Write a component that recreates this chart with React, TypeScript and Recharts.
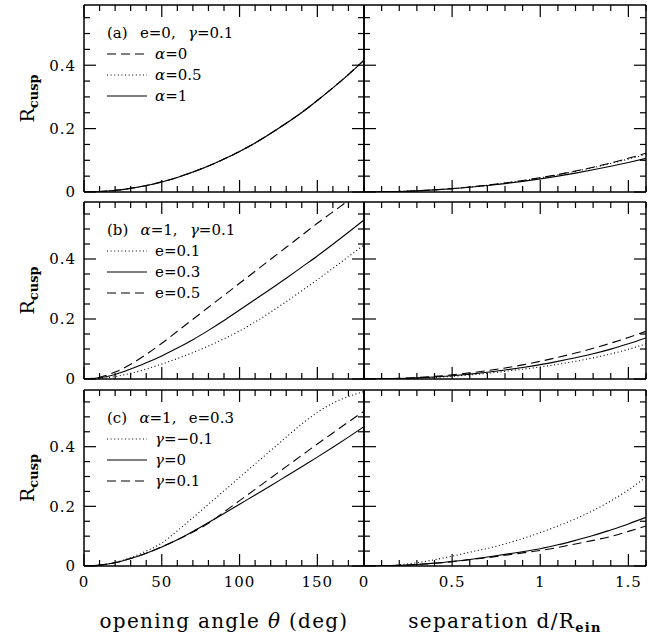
import React from 'react';
import { LineChart, Line, XAxis, YAxis, Legend, Label } from 'recharts';

const FONT = '"DejaVu Serif", "Liberation Serif", serif';

// x grids
const thetaGrid = [0, 10, 20, 30, 40, 50, 60, 70, 80, 90, 100, 110, 120, 130, 140, 150, 160, 170, 180];
const sepGrid = [0, 0.1, 0.2, 0.3, 0.4, 0.5, 0.6, 0.7, 0.8, 0.9, 1, 1.1, 1.2, 1.3, 1.4, 1.5, 1.6];

// ticks
const thetaTicks = [0, 10, 20, 30, 40, 50, 60, 70, 80, 90, 100, 110, 120, 130, 140, 150, 160, 170, 180];
const thetaMajor = [0, 50, 100, 150];
const sepTicks = [0, 0.1, 0.2, 0.3, 0.4, 0.5, 0.6, 0.7, 0.8, 0.9, 1, 1.1, 1.2, 1.3, 1.4, 1.5, 1.6];
const sepMajor = [0, 0.5, 1, 1.5];
const rTicks = [0, 0.05, 0.1, 0.15, 0.2, 0.25, 0.3, 0.35, 0.4, 0.45, 0.5, 0.55];
const rMajor = [0, 0.2, 0.4];

// (a) e=0, gamma=0.1 -- alpha varies
const aThetaAlpha0 = [0, 0.0013, 0.0051, 0.0116, 0.0205, 0.032, 0.046, 0.063, 0.082, 0.104, 0.128, 0.155, 0.185, 0.217, 0.251, 0.289, 0.329, 0.371, 0.416];
const aThetaAlpha05 = [0, 0.0013, 0.0051, 0.0115, 0.0204, 0.0319, 0.0459, 0.0629, 0.0819, 0.1039, 0.1279, 0.1549, 0.1848, 0.2168, 0.2509, 0.2888, 0.3288, 0.3708, 0.4158];
const aThetaAlpha1 = [0, 0.0013, 0.005, 0.0115, 0.0204, 0.0318, 0.0458, 0.0628, 0.0818, 0.1038, 0.1278, 0.1548, 0.1847, 0.2167, 0.2508, 0.2887, 0.3286, 0.3706, 0.4155];
const aSepAlpha0 = [0, 0.0004, 0.0017, 0.0038, 0.0068, 0.0108, 0.0157, 0.0216, 0.0285, 0.0363, 0.0452, 0.0551, 0.0661, 0.0783, 0.0917, 0.1062, 0.1225];
const aSepAlpha05 = [0, 0.0004, 0.0017, 0.0038, 0.0068, 0.0107, 0.0155, 0.0213, 0.0281, 0.0358, 0.0445, 0.0542, 0.065, 0.0769, 0.0899, 0.104, 0.119];
const aSepAlpha1 = [0, 0.0004, 0.0017, 0.0037, 0.0066, 0.0104, 0.0149, 0.0203, 0.0265, 0.0335, 0.0414, 0.0501, 0.0596, 0.07, 0.0812, 0.0932, 0.106];

// (b) alpha=1, gamma=0.1 -- e varies
const bThetaE01 = [0, 0.002, 0.008, 0.019, 0.033, 0.05, 0.068, 0.088, 0.11, 0.134, 0.16, 0.19, 0.223, 0.258, 0.294, 0.331, 0.369, 0.408, 0.447];
const bThetaE03 = [0, 0.004, 0.015, 0.033, 0.054, 0.077, 0.103, 0.131, 0.162, 0.195, 0.23, 0.265, 0.3, 0.336, 0.373, 0.41, 0.449, 0.489, 0.53];
const bThetaE05 = [0, 0.006, 0.023, 0.049, 0.082, 0.119, 0.159, 0.199, 0.239, 0.279, 0.319, 0.359, 0.399, 0.439, 0.479, 0.519, 0.557, 0.595, 0.632];
const bSepE01 = [0, 0.0003, 0.0013, 0.003, 0.0055, 0.009, 0.0135, 0.019, 0.0255, 0.0325, 0.04, 0.049, 0.059, 0.0705, 0.0835, 0.099, 0.117];
const bSepE03 = [0, 0.0004, 0.0016, 0.0037, 0.0068, 0.011, 0.0162, 0.0225, 0.0299, 0.0384, 0.048, 0.0588, 0.0708, 0.084, 0.0996, 0.1175, 0.137];
const bSepE05 = [0, 0.0005, 0.002, 0.0047, 0.0086, 0.014, 0.0203, 0.028, 0.0368, 0.0471, 0.059, 0.0722, 0.0866, 0.1023, 0.1195, 0.1384, 0.159];

// (c) alpha=1, e=0.3 -- gamma varies
const cThetaGm01 = [0, 0.003, 0.012, 0.028, 0.05, 0.077, 0.118, 0.162, 0.207, 0.252, 0.297, 0.342, 0.387, 0.432, 0.476, 0.515, 0.546, 0.568, 0.585];
const cThetaG0 = [0, 0.003, 0.011, 0.025, 0.043, 0.064, 0.088, 0.116, 0.146, 0.176, 0.207, 0.238, 0.269, 0.301, 0.333, 0.365, 0.398, 0.432, 0.467];
const cThetaG01 = [0, 0.003, 0.011, 0.025, 0.043, 0.064, 0.088, 0.114, 0.143, 0.181, 0.219, 0.257, 0.295, 0.333, 0.371, 0.409, 0.446, 0.483, 0.519];
const cSepGm01 = [0, 0.0005, 0.004, 0.011, 0.021, 0.033, 0.046, 0.059, 0.074, 0.092, 0.112, 0.134, 0.158, 0.186, 0.218, 0.255, 0.298];
const cSepG0 = [0, 0.0003, 0.002, 0.005, 0.0095, 0.0155, 0.022, 0.03, 0.039, 0.048, 0.058, 0.071, 0.086, 0.102, 0.121, 0.141, 0.163];
const cSepG01 = [0, 0.0003, 0.002, 0.005, 0.009, 0.0145, 0.021, 0.028, 0.036, 0.044, 0.052, 0.062, 0.074, 0.086, 0.099, 0.116, 0.134];

const DASH = '9 5';
const DOT = '1 2.6';

type Series = { name: React.ReactNode; values: number[]; dash?: string };

const gr = (s: string) => <tspan fontStyle="italic">{s}</tspan>;
const grH = (s: string) => <span style={{ fontStyle: 'italic' }}>{s}</span>;

const isMajor = (v: number, majors: number[]) => majors.some((m) => Math.abs(m - v) < 1e-6);

const makeTick = (side: 'left' | 'right' | 'top' | 'bottom', majors: number[], labelled: boolean) => (props: any) => {
  const { x, y, payload } = props;
  const v = payload.value;
  const major = isMajor(v, majors);
  const len = major ? 12 : 6;
  let x2 = x;
  let y2 = y;
  if (side === 'left') x2 = x + len;
  if (side === 'right') x2 = x - len;
  if (side === 'top') y2 = y + len;
  if (side === 'bottom') y2 = y - len;
  return (
    <g>
      <line x1={x} y1={y} x2={x2} y2={y2} stroke="#000" strokeWidth={1.2} />
      {labelled && major && side === 'left' && (
        <text x={x - 8} y={y} dy="0.36em" textAnchor="end" fontFamily={FONT} fontSize={15} letterSpacing={1} fill="#000">
          {String(v)}
        </text>
      )}
      {labelled && major && side === 'bottom' && (
        <text x={x} y={y + 21} textAnchor="middle" fontFamily={FONT} fontSize={15} letterSpacing={1} fill="#000">
          {String(v)}
        </text>
      )}
    </g>
  );
};

const ROWS = [
  { top: 5, h: 187 },
  { top: 202, h: 177 },
  { top: 390, h: 176 },
];

type PanelProps = {
  row: number;
  col: number;
  series: Series[];
  legendTitle?: React.ReactNode;
  xTitle?: React.ReactNode;
};

function LegendBox({ title, series }: { title: React.ReactNode; series: Series[] }) {
  return (
    <div style={{ fontFamily: FONT, fontSize: 15, lineHeight: '21px', color: '#000', whiteSpace: 'nowrap' }}>
      <div>{title}</div>
      {series.map((s, i) => (
        <div key={i} style={{ display: 'flex', alignItems: 'center', height: 21 }}>
          <svg width={40} height={8} style={{ display: 'block' }}>
            <line x1={0} y1={4} x2={40} y2={4} stroke="#000" strokeWidth={1.1} strokeDasharray={s.dash} />
          </svg>
          <span style={{ marginLeft: 8 }}>{s.name}</span>
        </div>
      ))}
    </div>
  );
}

function Panel({ row, col, series, legendTitle, xTitle }: PanelProps) {
  const { top, h } = ROWS[row];
  const bottomRow = row === 2;
  // outer plot-frame margins (axes take 1px each, so margins are trimmed by 1)
  const mLeft = col === 0 ? 84 : 30;
  const plotW = col === 0 ? 280 : 282;
  const mRight = col === 0 ? 14 : 21;
  const mTop = 5;
  const mBottom = bottomRow ? 71 : 8;
  const left = col === 0 ? 0 : 334;
  const width = mLeft + plotW + mRight;
  const height = mTop + h + mBottom;
  const grid = col === 0 ? thetaGrid : sepGrid;
  const xTicks = col === 0 ? thetaTicks : sepTicks;
  const xMajor = col === 0 ? thetaMajor : sepMajor;
  const xMax = col === 0 ? 180 : 1.6;
  const data = grid.map((x, i) => {
    const d: Record<string, number> = { x };
    series.forEach((s, k) => {
      d['s' + k] = s.values[i];
    });
    return d;
  });
  const axisLine = { stroke: '#000', strokeWidth: 1.5 };

  return (
    <div style={{ position: 'absolute', left, top: top - mTop, width, height }}>
      <LineChart
        width={width}
        height={height}
        data={data}
        margin={{ top: mTop - 1, right: mRight - 1, bottom: mBottom - 1, left: mLeft - 1 }}
      >
        <XAxis
          xAxisId="b"
          type="number"
          dataKey="x"
          domain={[0, xMax]}
          allowDataOverflow
          ticks={xTicks}
          interval={0}
          height={1}
          tickSize={0}
          tickMargin={0}
          axisLine={axisLine}
          tickLine={false}
          tick={makeTick('bottom', xMajor, bottomRow)}
        >
          {bottomRow && xTitle && (
            <Label
              content={() => (
                <text x={mLeft + plotW / 2} y={mTop + h + 62} textAnchor="middle" fontFamily={FONT} fontSize={20} letterSpacing={1.3} fill="#000">
                  {xTitle}
                </text>
              )}
            />
          )}
        </XAxis>
        <XAxis
          xAxisId="t"
          orientation="top"
          type="number"
          dataKey="x"
          domain={[0, xMax]}
          allowDataOverflow
          ticks={xTicks}
          interval={0}
          height={1}
          tickSize={0}
          tickMargin={0}
          axisLine={axisLine}
          tickLine={false}
          tick={makeTick('top', xMajor, false)}
        />
        <YAxis
          yAxisId="l"
          type="number"
          domain={[0, 0.59]}
          allowDataOverflow
          ticks={rTicks}
          interval={0}
          width={1}
          tickSize={0}
          tickMargin={0}
          axisLine={axisLine}
          tickLine={false}
          tick={makeTick('left', rMajor, col === 0)}
        >
          {col === 0 && (
            <Label
              content={() => (
                <text
                  x={34}
                  y={mTop + h / 2}
                  transform={`rotate(-90, 34, ${mTop + h / 2})`}
                  textAnchor="middle"
                  fontFamily={FONT}
                  fontSize={19}
                  fill="#000"
                >
                  <tspan>R</tspan>
                  <tspan fontSize={13} fontWeight="bold" dy={4}>cusp</tspan>
                </text>
              )}
            />
          )}
        </YAxis>
        <YAxis
          yAxisId="r"
          orientation="right"
          type="number"
          domain={[0, 0.59]}
          allowDataOverflow
          ticks={rTicks}
          interval={0}
          width={1}
          tickSize={0}
          tickMargin={0}
          axisLine={axisLine}
          tickLine={false}
          tick={makeTick('right', rMajor, false)}
        />
        {legendTitle && (
          <Legend
            layout="horizontal"
            verticalAlign="middle"
            align="center"
            wrapperStyle={{ left: 107, top: mTop + 17.5, width: 230 }}
            content={() => <LegendBox title={legendTitle} series={series} />}
          />
        )}
        {series.map((s, k) => (
          <Line
            key={k}
            xAxisId="b"
            yAxisId="l"
            type="monotone"
            dataKey={'s' + k}
            stroke="#000"
            strokeWidth={1.1}
            strokeDasharray={s.dash}
            dot={false}
            activeDot={false}
            isAnimationActive={false}
          />
        ))}
      </LineChart>
    </div>
  );
}

export default function App() {
  const seriesAT: Series[] = [
    { name: <>{grH('α')}=0</>, values: aThetaAlpha0, dash: DASH },
    { name: <>{grH('α')}=0.5</>, values: aThetaAlpha05, dash: DOT },
    { name: <>{grH('α')}=1</>, values: aThetaAlpha1 },
  ];
  const seriesAS: Series[] = [
    { name: 'α=0', values: aSepAlpha0, dash: DASH },
    { name: 'α=0.5', values: aSepAlpha05, dash: DOT },
    { name: 'α=1', values: aSepAlpha1 },
  ];
  const seriesBT: Series[] = [
    { name: 'e=0.1', values: bThetaE01, dash: DOT },
    { name: 'e=0.3', values: bThetaE03 },
    { name: 'e=0.5', values: bThetaE05, dash: DASH },
  ];
  const seriesBS: Series[] = [
    { name: 'e=0.1', values: bSepE01, dash: DOT },
    { name: 'e=0.3', values: bSepE03 },
    { name: 'e=0.5', values: bSepE05, dash: DASH },
  ];
  const seriesCT: Series[] = [
    { name: <>{grH('γ')}=−0.1</>, values: cThetaGm01, dash: DOT },
    { name: <>{grH('γ')}=0</>, values: cThetaG0 },
    { name: <>{grH('γ')}=0.1</>, values: cThetaG01, dash: DASH },
  ];
  const seriesCS: Series[] = [
    { name: 'γ=−0.1', values: cSepGm01, dash: DOT },
    { name: 'γ=0', values: cSepG0 },
    { name: 'γ=0.1', values: cSepG01, dash: DASH },
  ];

  return (
    <div style={{ position: 'absolute', left: 0, top: 0, width: 667, height: 637, background: '#fff' }}>
      <Panel row={0} col={0} series={seriesAT} legendTitle={<>(a)&ensp; e=0,&ensp; {grH('γ')}=0.1</>} />
      <Panel row={0} col={1} series={seriesAS} />
      <Panel row={1} col={0} series={seriesBT} legendTitle={<>(b)&ensp; {grH('α')}=1,&ensp; {grH('γ')}=0.1</>} />
      <Panel row={1} col={1} series={seriesBS} />
      <Panel
        row={2}
        col={0}
        series={seriesCT}
        legendTitle={<>(c)&ensp; {grH('α')}=1,&ensp; e=0.3</>}
        xTitle={<>opening angle {gr('θ')} (deg)</>}
      />
      <Panel
        row={2}
        col={1}
        series={seriesCS}
        xTitle={
          <>
            separation d/R
            <tspan fontSize={13} fontWeight="bold" dy={4}>ein</tspan>
          </>
        }
      />
    </div>
  );
}
